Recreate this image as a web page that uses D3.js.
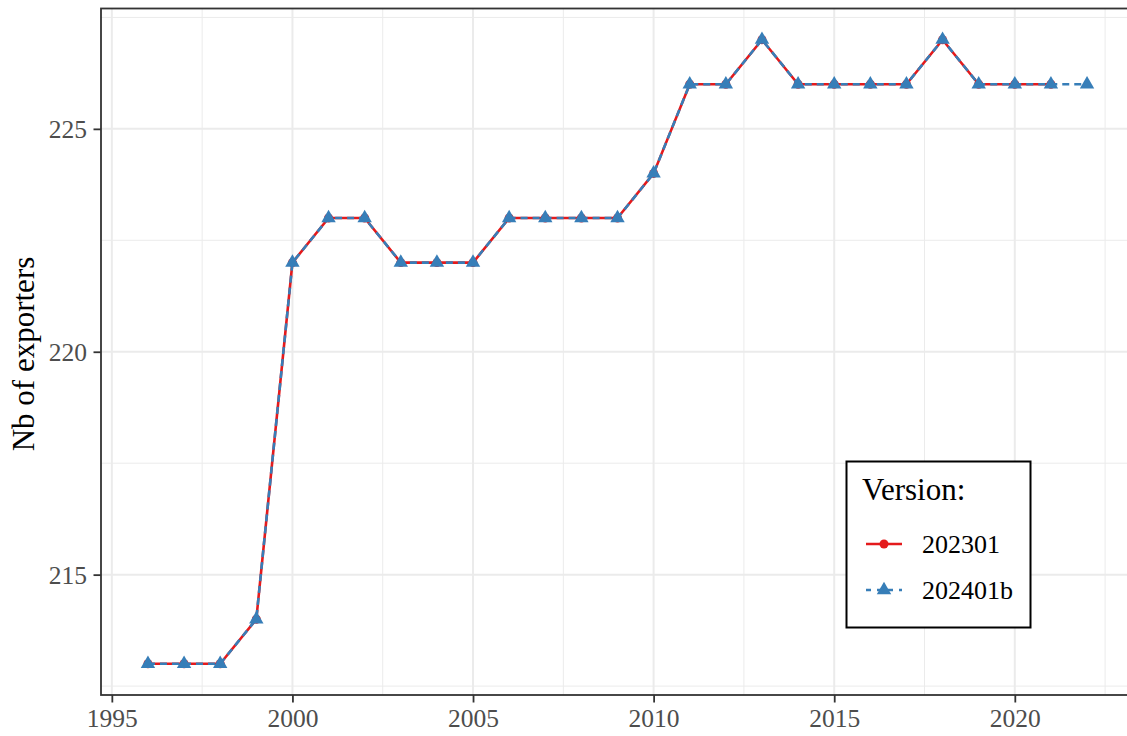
<!DOCTYPE html>
<html><head><meta charset="utf-8">
<script src="https://cdn.jsdelivr.net/npm/d3@7"></script>
<style>body{margin:0;background:#fff}svg{display:block}text{font-family:"Liberation Serif","Times New Roman",serif}</style>
</head><body><svg id="c" width="1127" height="736"></svg>
<script>
const years202301 = [1996,1997,1998,1999,2000,2001,2002,2003,2004,2005,2006,2007,2008,2009,2010,2011,2012,2013,2014,2015,2016,2017,2018,2019,2020,2021];
const values202301 = [213,213,213,214,222,223,223,222,222,222,223,223,223,223,224,226,226,227,226,226,226,226,227,226,226,226];
const years202401b = [1996,1997,1998,1999,2000,2001,2002,2003,2004,2005,2006,2007,2008,2009,2010,2011,2012,2013,2014,2015,2016,2017,2018,2019,2020,2021,2022];
const values202401b = [213,213,213,214,222,223,223,222,222,222,223,223,223,223,224,226,226,227,226,226,226,226,227,226,226,226,226];
const xTicks = [1995,2000,2005,2010,2015,2020];
const yTicks = [215,220,225];
const seriesNames = ["202301","202401b"];
const seriesColors = ["#E41A1C","#377EB8"];

const svg = d3.select("#c");
const L=101, T=8.5, R=1134, B=695;
const x = d3.scaleLinear().domain([1994.7,2023.3]).range([L,R]);
const y = d3.scaleLinear().domain([212.3,227.7]).range([B,T]);

svg.append("defs").append("clipPath").attr("id","pc").append("rect")
  .attr("x",L).attr("y",T).attr("width",R-L).attr("height",B-T);
const g = svg.append("g").attr("clip-path","url(#pc)");
const xMinor = [1997.5,2002.5,2007.5,2012.5,2017.5,2022.5];
const yMinor = [212.5,217.5,222.5,227.5];
g.selectAll(".xm").data(xMinor).join("line").attr("x1",d=>x(d)).attr("x2",d=>x(d)).attr("y1",T).attr("y2",B).attr("stroke","#EBEBEB").attr("stroke-width",1);
g.selectAll(".ym").data(yMinor).join("line").attr("y1",d=>y(d)).attr("y2",d=>y(d)).attr("x1",L).attr("x2",R).attr("stroke","#EBEBEB").attr("stroke-width",1);
g.selectAll(".xM").data(xTicks).join("line").attr("x1",d=>x(d)).attr("x2",d=>x(d)).attr("y1",T).attr("y2",B).attr("stroke","#EBEBEB").attr("stroke-width",2);
g.selectAll(".yM").data(yTicks).join("line").attr("y1",d=>y(d)).attr("y2",d=>y(d)).attr("x1",L).attr("x2",R).attr("stroke","#EBEBEB").attr("stroke-width",2);

const line = d3.line().x(d=>x(d[0])).y(d=>y(d[1]));
const d1 = years202301.map((yr,i)=>[yr,values202301[i]]);
const d2 = years202401b.map((yr,i)=>[yr,values202401b[i]]);
g.append("path").datum(d1).attr("d",line).attr("fill","none").attr("stroke",seriesColors[0]).attr("stroke-width",2.6);
g.selectAll(".p1").data(d1).join("circle").attr("cx",d=>x(d[0])).attr("cy",d=>y(d[1])).attr("r",4.5).attr("fill",seriesColors[0]);
g.append("path").datum(d2).attr("d",line).attr("fill","none").attr("stroke",seriesColors[1]).attr("stroke-width",2.6).attr("stroke-dasharray","7,5");
const tri = d3.symbol().type(d3.symbolTriangle).size(90);
g.selectAll(".p2").data(d2).join("path").attr("d",tri).attr("transform",d=>`translate(${x(d[0])},${y(d[1])})`).attr("fill",seriesColors[1]);

svg.append("rect").attr("x",L).attr("y",T).attr("width",R-L).attr("height",B-T).attr("fill","none").attr("stroke","#333333").attr("stroke-width",1.8);

const xa = svg.append("g").attr("transform",`translate(0,${B})`).call(d3.axisBottom(x).tickValues(xTicks).tickFormat(d3.format("d")).tickSize(7.5).tickSizeOuter(0));
const ya = svg.append("g").attr("transform",`translate(${L},0)`).call(d3.axisLeft(y).tickValues(yTicks).tickFormat(d3.format("d")).tickSize(7.5).tickSizeOuter(0));
[xa,ya].forEach(a=>{a.attr("font-size",null).attr("font-family",null);a.select(".domain").remove();a.selectAll(".tick line").attr("stroke","#333333").attr("stroke-width",1.8);
 a.selectAll("text").attr("fill","#4D4D4D").style("font-size","25.5px").style("font-family",'"Liberation Serif",serif');});
xa.selectAll("text").attr("dy","0").attr("y",32);
ya.selectAll("text").attr("x",-14).attr("dy","0.35em");

svg.append("text").attr("transform","translate(34,354) rotate(-90)").attr("text-anchor","middle").style("font-size","31px").attr("fill","#000").text("Nb of exporters");

const lg = svg.append("g");
lg.append("rect").attr("x",846.5).attr("y",461.5).attr("width",184).attr("height",166).attr("fill","#fff").attr("stroke","#000").attr("stroke-width",2);
lg.append("text").attr("x",862).attr("y",500).style("font-size","31px").attr("fill","#000").text("Version:");
seriesNames.forEach((nm,i)=>{
  const yy = 544 + i*46;
  lg.append("line").attr("x1",866).attr("x2",902).attr("y1",yy).attr("y2",yy).attr("stroke",seriesColors[i]).attr("stroke-width",2.6).attr("stroke-dasharray", i===1?"5,6":null);
  if(i===0) lg.append("circle").attr("cx",884).attr("cy",yy).attr("r",4.5).attr("fill",seriesColors[i]);
  else lg.append("path").attr("d",tri).attr("transform",`translate(884,${yy})`).attr("fill",seriesColors[i]);
  lg.append("text").attr("x",922).attr("y",yy+9).style("font-size","26px").attr("fill","#000").text(nm);
});
</script></body></html>
